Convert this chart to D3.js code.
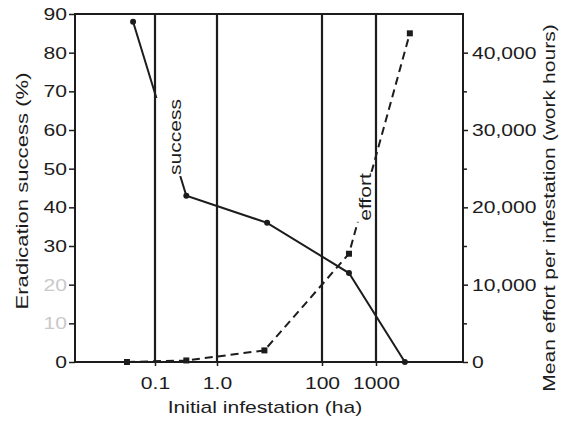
<!DOCTYPE html>
<html>
<head>
<meta charset="utf-8">
<script src="https://cdn.jsdelivr.net/npm/d3@7"></script>
<style>
  body { margin: 0; background: #fff; }
  svg { display: block; font-family: "Liberation Sans", Arial, sans-serif; }
</style>
</head>
<body>
<div id="chart"></div>
<script>
// values
const successArea = [0.044, 0.32, 9, 316, 3400];   // ha
const successPct  = [88, 43, 36, 23, 0];            // %
const effortArea  = [0.035, 0.32, 8, 316, 4200];    // ha
const effortHours = [0, 200, 1500, 14000, 42500];   // work hours

const xTicks      = [0.1, 1, 100, 1000];
const xTickLabels = ['0.1', '1.0', '100', '1000'];
const pctTicks    = [0, 10, 20, 30, 40, 50, 60, 70, 80, 90];
const hourTicks   = [0, 10000, 20000, 30000, 40000];
const hourMinor   = [5000, 15000, 25000, 35000];

const width = 568, height = 422;
const margin = { top: 14, right: 105, bottom: 60, left: 75 };
const w = width - margin.left - margin.right;
const h = height - margin.top - margin.bottom;
const ink = '#1c1c1c';
const fontSize = 17;
const stretch = 1.24;   // the original lettering is wide

// hand-drawn log axis: decades are not evenly spaced, so use a piecewise log scale
const x = d3.scaleLog()
    .domain([0.005, 0.1, 1, 100, 1000, 40000])
    .range([0, 80, 142, 247, 301, w]);
const y = d3.scaleLinear().domain([0, 90]).range([h, 0]);
const yR = d3.scaleLinear().domain([0, 45000]).range([h, 0]);

const svg = d3.select('#chart').append('svg')
    .attr('width', width)
    .attr('height', height);

// layers: data marks, then label patches, then grid lines / frame / axes on top
const marks = svg.append('g')
    .attr('transform', `translate(${margin.left},${margin.top})`);
const labels = svg.append('g');
const frame = svg.append('g')
    .attr('transform', `translate(${margin.left},${margin.top})`);

function widen(sel, k) {
    sel.each(function() {
        const len = this.getComputedTextLength();
        d3.select(this)
            .attr('textLength', len * (k || stretch))
            .attr('lengthAdjust', 'spacingAndGlyphs');
    });
}

function styleAxis(a) {
    a.select('.domain').remove();
    a.selectAll('line').attr('stroke', ink).attr('stroke-width', 1.5);
    a.selectAll('text')
        .attr('fill', ink)
        .style('font-size', fontSize + 'px')
        .style('font-family', '"Liberation Sans", Arial, sans-serif');
}

// effort series (dashed, right axis)
const effortData = effortArea.map((a, i) => ({ a: a, v: effortHours[i] }));
marks.append('path')
    .datum(effortData)
    .attr('fill', 'none')
    .attr('stroke', ink)
    .attr('stroke-width', 2)
    .attr('stroke-dasharray', '8,5')
    .attr('d', d3.line().x(d => x(d.a)).y(d => yR(d.v)));

marks.selectAll('.effort-pt')
    .data(effortData)
   .enter()
    .append('rect')
    .attr('class', 'effort-pt')
    .attr('x', d => x(d.a) - 3)
    .attr('y', d => yR(d.v) - 3)
    .attr('width', 6)
    .attr('height', 6)
    .attr('fill', ink);

// success series (solid, left axis)
const successData = successArea.map((a, i) => ({ a: a, v: successPct[i] }));
marks.append('path')
    .datum(successData)
    .attr('fill', 'none')
    .attr('stroke', ink)
    .attr('stroke-width', 2)
    .attr('d', d3.line().x(d => x(d.a)).y(d => y(d.v)));

marks.selectAll('.success-pt')
    .data(successData)
   .enter()
    .append('circle')
    .attr('class', 'success-pt')
    .attr('cx', d => x(d.a))
    .attr('cy', d => y(d.v))
    .attr('r', 3)
    .attr('fill', ink);

// in-plot labels on a white patch that hides the line underneath
// (padLeft widens the patch towards the left of the screen)
function seriesLabel(txt, cx, cy, padLeft) {
    const lg = labels.append('g')
        .attr('transform', `translate(${cx},${cy}) rotate(-90)`);
    const t = lg.append('text')
        .attr('text-anchor', 'middle')
        .attr('fill', ink)
        .style('font-size', fontSize + 'px')
        .text(txt);
    widen(t);
    const bb = t.node().getBBox();
    lg.insert('rect', 'text')
        .attr('x', bb.x - 1)
        .attr('y', bb.y - padLeft)
        .attr('width', bb.width + 2)
        .attr('height', bb.height + padLeft + 1)
        .attr('fill', '#fff');
}
seriesLabel('success', 181, 137, 10);
seriesLabel('effort', 371, 197, 2);

// vertical lines at the labelled x values
frame.selectAll('.vline')
    .data(xTicks)
   .enter()
    .append('line')
    .attr('class', 'vline')
    .attr('x1', d => x(d))
    .attr('x2', d => x(d))
    .attr('y1', 0)
    .attr('y2', h)
    .attr('stroke', ink)
    .attr('stroke-width', 2.2);

frame.append('rect')
    .attr('width', w)
    .attr('height', h)
    .attr('fill', 'none')
    .attr('stroke', ink)
    .attr('stroke-width', 2);

// axes
const leftAxis = frame.append('g')
    .call(d3.axisLeft(y).tickValues(pctTicks).tickSize(6).tickPadding(2))
    .call(styleAxis);
// the scan has washed out the 10 and 20 labels
leftAxis.selectAll('text')
    .attr('fill', d => (d === 10 || d === 20) ? '#c9c9c9' : ink);

frame.append('g')
    .attr('transform', `translate(${w},0)`)
    .call(d3.axisRight(yR).tickValues(hourTicks).tickSize(5).tickPadding(4).tickFormat(d3.format(',')))
    .call(styleAxis);

frame.append('g')
    .attr('transform', `translate(${w},0)`)
    .call(d3.axisRight(yR).tickValues(hourMinor).tickSize(4).tickFormat(''))
    .call(styleAxis);

frame.append('g')
    .attr('transform', `translate(0,${h})`)
    .call(d3.axisBottom(x).tickValues(xTicks).tickSize(4).tickPadding(11)
        .tickFormat((d, i) => xTickLabels[i]))
    .call(styleAxis);

widen(frame.selectAll('.tick text'));

// axis titles
function title(txt, tx, ty, rot, k) {
    const t = svg.append('text')
        .attr('transform', `translate(${tx},${ty}) rotate(${rot})`)
        .attr('text-anchor', 'middle')
        .attr('fill', ink)
        .style('font-size', fontSize + 'px')
        .text(txt);
    widen(t, k);
}
title('Eradication success (%)', 28, 191, -90, 1.3);
title('Mean effort per infestation (work hours)', 555, 208, -90);
title('Initial infestation (ha)', 265, 413, 0);
</script>
</body>
</html>
